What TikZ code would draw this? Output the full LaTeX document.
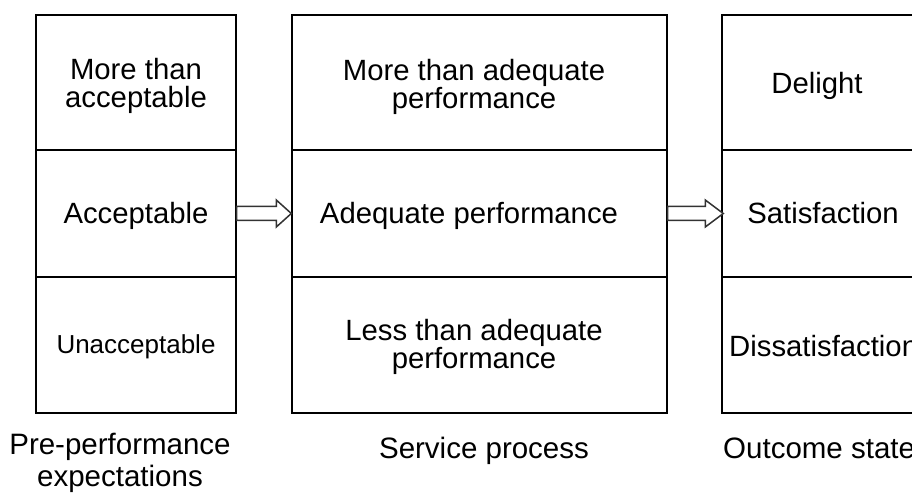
\documentclass[tikz,border=0pt]{standalone}
\usepackage{fontspec}
\setmainfont{Liberation Sans}
\usetikzlibrary{calc}
\begin{document}
\begin{tikzpicture}[x=1pt,y=-1pt,
  cell/.style={draw=black, line width=1.4pt, inner sep=0pt},
  lbl/.style={inner sep=0pt, align=center, font=\fontsize{29.3}{27.7}\selectfont},
  smalllbl/.style={lbl, font=\fontsize{26}{28}\selectfont},
  caption/.style={inner sep=0pt, align=center, font=\fontsize{29.5}{32}\selectfont},
  hollowarrow/.style={draw=black!80, line width=1.5pt, fill=white, line join=miter}]
\useasboundingbox (0,0) rectangle (912,494);
\clip (0,0) rectangle (912,494);
% Box 1: pre-performance expectations
\node[cell, minimum width=200pt, minimum height=135pt] (b1a) at (136,82.5) {};
\node[cell, minimum width=200pt, minimum height=127pt] (b1b) at (136,213.5) {};
\node[cell, minimum width=200pt, minimum height=136pt] (b1c) at (136,345) {};
\node[lbl] (t1a) at (136,86) {More than\\acceptable};
\node[lbl] (t1b) at (136,216) {Acceptable};
\node[smalllbl] (t1c) at (136,347) {Unacceptable};
% Box 2: service process
\node[cell, minimum width=375pt, minimum height=135pt] (b2a) at (479.5,82.5) {};
\node[cell, minimum width=375pt, minimum height=127pt] (b2b) at (479.5,213.5) {};
\node[cell, minimum width=375pt, minimum height=136pt] (b2c) at (479.5,345) {};
\node[lbl] (t2a) at (474,87) {More than adequate\\performance};
\node[lbl] (t2b) at (469,216) {Adequate performance};
\node[lbl] (t2c) at (474,347) {Less than adequate\\performance};
% Box 3: outcome states
\node[cell, minimum width=202pt, minimum height=135pt] (b3a) at (823,82.5) {};
\node[cell, minimum width=202pt, minimum height=127pt] (b3b) at (823,213.5) {};
\node[cell, minimum width=202pt, minimum height=136pt] (b3c) at (823,345) {};
\node[lbl, anchor=base] (t3a) at (817,94) {Delight};
\node[lbl, anchor=base] (t3b) at (823,224) {Satisfaction};
\node[lbl, anchor=base west] (t3c) at (729,356) {Dissatisfaction};
% Hollow block arrows
\draw[hollowarrow] ($(b1b.east)+(0,-7)$) -- ($(b2b.west)+(-15,-7)$) -- ($(b2b.west)+(-15,-13.5)$)
  -- (b2b.west) -- ($(b2b.west)+(-15,13.5)$) -- ($(b2b.west)+(-15,7)$) -- ($(b1b.east)+(0,7)$) -- cycle;
\draw[hollowarrow] ($(b2b.east)+(0,-7)$) -- ($(b3b.west)+(-16,-7)$) -- ($(b3b.west)+(-16,-13.5)$)
  -- ($(b3b.west)+(2,0)$) -- ($(b3b.west)+(-16,13.5)$) -- ($(b3b.west)+(-16,7)$) -- ($(b2b.east)+(0,7)$) -- cycle;
% Captions
\node[caption, anchor=base] (c1) at (120,486) {Pre-performance\\expectations};
\node[caption, anchor=base] (c2) at (484,458) {Service process};
\node[caption, anchor=base west] (c3) at (723,458) {Outcome state};
\end{tikzpicture}
\end{document}
